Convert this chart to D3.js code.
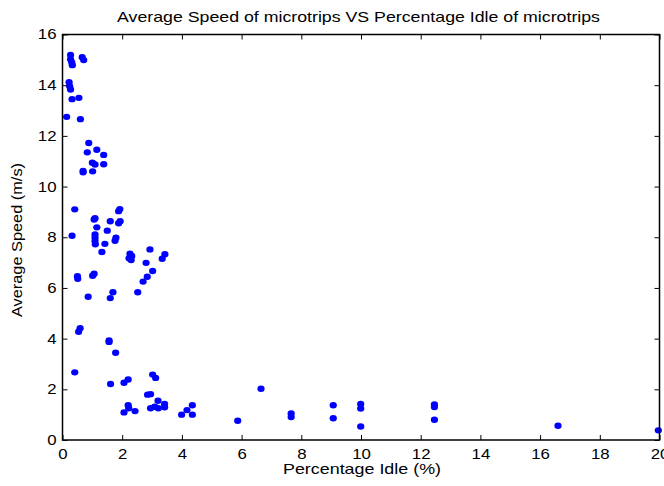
<!DOCTYPE html>
<html>
<head>
<meta charset="utf-8">
<script src="https://cdn.jsdelivr.net/npm/d3@7"></script>
<style>
  body { margin: 0; background: #fff; }
  text { font-family: "Liberation Sans", Arial, sans-serif; }
</style>
</head>
<body>
<div id="plot"></div>
<script>
// Percentage idle (%) of each microtrip
const idlePct = [
  0.27, 0.27, 0.31, 0.33, 0.66, 0.71, 0.22, 0.24, 0.27, 0.32, 0.55, 0.14, 0.6,
  0.88, 0.83, 1.15, 1.38, 1.0, 1.09, 1.38, 0.69, 0.69, 1.01,
  0.41, 1.09, 1.06, 1.6, 1.92, 1.88, 1.93, 1.88, 1.15, 1.5, 0.32,
  1.09, 1.09, 1.09, 1.1, 1.42, 1.79, 1.76, 1.32,
  2.26, 2.32, 2.23, 2.3, 2.93, 2.8, 3.43, 3.34, 3.02, 2.84, 2.7,
  0.5, 0.51, 1.06, 1.01, 0.86, 1.6, 1.69, 2.52,
  0.59, 0.54, 1.56, 1.56, 1.78, 0.41, 1.61, 2.06, 2.2, 3.02, 3.12,
  2.85, 2.95, 3.2, 3.42, 3.42, 2.2, 2.22, 2.06, 2.43, 2.95, 3.09, 3.21,
  3.99, 4.17, 4.35, 4.35, 5.87, 6.65, 7.66, 7.66, 9.07, 9.07,
  9.99, 9.99, 9.99, 12.46, 12.46, 12.46, 16.6, 19.96
];

// Average speed (m/s) of each microtrip
const avgSpeed = [
  15.19, 15.02, 14.9, 14.79, 15.1, 14.99, 14.12, 13.96, 13.83, 13.45, 13.5, 12.75, 12.66,
  11.72, 11.35, 11.45, 11.25, 10.94, 10.87, 10.88, 10.62, 10.56, 10.6,
  9.1, 8.75, 8.7, 8.63, 9.11, 9.03, 8.63, 8.55, 8.39, 8.26, 8.06,
  8.11, 7.98, 7.85, 7.72, 7.74, 7.98, 7.86, 7.42,
  7.35, 7.26, 7.17, 7.1, 7.52, 6.99, 7.33, 7.15, 6.67, 6.44, 6.25,
  6.46, 6.36, 6.56, 6.48, 5.65, 5.6, 5.83, 5.83,
  4.41, 4.27, 3.93, 3.87, 3.44, 2.67, 2.21, 2.26, 2.39, 2.58, 2.45,
  1.79, 1.81, 1.55, 1.42, 1.29, 1.37, 1.25, 1.09, 1.14, 1.25, 1.31, 1.25,
  1.0, 1.18, 1.37, 1.0, 0.76, 2.02, 1.05, 0.91, 1.37, 0.86,
  1.42, 1.24, 0.53, 1.4, 1.3, 0.8, 0.56, 0.38
];

const xTicks = [0, 2, 4, 6, 8, 10, 12, 14, 16, 18, 20];
const yTicks = [0, 2, 4, 6, 8, 10, 12, 14, 16];

const margin = { top: 34.5, right: 4.5, bottom: 46, left: 62.5 };
const W = 664, H = 486;
const width = W - margin.left - margin.right;
const height = H - margin.top - margin.bottom;
const stretch = 1.2; // the reference text is a bit wide

const svg = d3.select("#plot").append("svg")
  .attr("width", W)
  .attr("height", H);

const g = svg.append("g")
  .attr("transform", `translate(${margin.left},${margin.top})`);

const x = d3.scaleLinear().domain([0, 20]).range([0, width]);
const y = d3.scaleLinear().domain([0, 16]).range([height, 0]);

// points first, box and ticks on top
const points = idlePct.map((v, i) => ({ idle: v, speed: avgSpeed[i] }));
g.selectAll(".dot")
  .data(points)
  .enter()
  .append("ellipse")
  .attr("class", "dot")
  .attr("cx", d => x(d.idle))
  .attr("cy", d => y(d.speed))
  .attr("rx", 3.6)
  .attr("ry", 3.2)
  .attr("fill", "#0000ff");

// axes with inward ticks (matlab style)
const tickLen = 5;
const xAxis = g.append("g").attr("transform", `translate(0,${height})`)
  .call(d3.axisBottom(x).tickValues(xTicks).tickSizeInner(-tickLen).tickSizeOuter(0).tickPadding(9));
const xTop = g.append("g")
  .call(d3.axisTop(x).tickValues(xTicks).tickSizeInner(-tickLen).tickSizeOuter(0).tickFormat(""));
const yAxis = g.append("g")
  .call(d3.axisLeft(y).tickValues(yTicks).tickSizeInner(-tickLen).tickSizeOuter(0).tickPadding(5));
const yRight = g.append("g").attr("transform", `translate(${width},0)`)
  .call(d3.axisRight(y).tickValues(yTicks).tickSizeInner(-tickLen).tickSizeOuter(0).tickFormat(""));

[xAxis, xTop, yAxis, yRight].forEach(a => {
  a.select(".domain").remove();
  a.selectAll("line").attr("stroke", "#000").attr("stroke-width", 1);
  a.selectAll("text")
    .attr("fill", "#000")
    .style("font-size", "14px")
    .attr("transform", `scale(${stretch},1)`);
});

// frame
g.append("rect")
  .attr("width", width)
  .attr("height", height)
  .attr("fill", "none")
  .attr("stroke", "#000")
  .attr("stroke-width", 1.5);

// title
svg.append("text")
  .attr("x", 358.5)
  .attr("y", 21.7)
  .attr("text-anchor", "middle")
  .attr("textLength", 483)
  .attr("lengthAdjust", "spacingAndGlyphs")
  .style("font-size", "15px")
  .text("Average Speed of microtrips VS Percentage Idle of microtrips");

// x label
svg.append("text")
  .attr("x", 362)
  .attr("y", 474)
  .attr("text-anchor", "middle")
  .attr("textLength", 158)
  .attr("lengthAdjust", "spacingAndGlyphs")
  .style("font-size", "15px")
  .text("Percentage Idle (%)");

// y label
svg.append("text")
  .attr("transform", `translate(22,240) rotate(-90)`)
  .attr("text-anchor", "middle")
  .attr("textLength", 154)
  .attr("lengthAdjust", "spacingAndGlyphs")
  .style("font-size", "15px")
  .text("Average Speed (m/s)");
</script>
</body>
</html>
